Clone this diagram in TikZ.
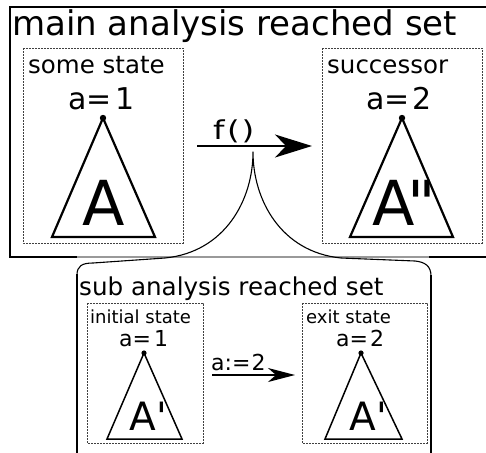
\documentclass[tikz,border=0pt]{standalone}
\usepackage{fontspec}
\usepackage{graphicx}
\newfontfamily\dv{DejaVu Sans}
\usetikzlibrary{arrows.meta}
\begin{document}
\begin{tikzpicture}[x=1pt,y=-1pt,
  lbl/.style={inner sep=0pt, anchor=base west, font=\dv},
  fs/.style={font={\dv\fontsize{#1}{#1}\selectfont}},
  dbox/.style={draw=black!75, dash pattern=on 2pt off 1pt, line width=0.7pt},
  bigtri/.style={draw, line width=2.2pt, line join=miter},
  smalltri/.style={draw, line width=1.5pt, line join=miter},
  bigarr/.style={line width=1.8pt, -{Stealth[length=37pt, width=23pt, inset=11pt]}},
  smallarr/.style={line width=1.4pt, -{Stealth[length=27pt, width=14pt, inset=8pt]}},
  frame/.style={line width=2pt},
  brace/.style={line width=1.1pt, line join=round}
]
\useasboundingbox (0,0) rectangle (486,452);
\clip (0,0) rectangle (486,452);
\fill[white] (0,0) rectangle (486,452);

% main frame
\draw[frame] (495,7) -- (10,7) -- (10,257) -- (77,257);
\draw[frame] (429,257) -- (495,257);
\draw[line width=1.6pt, black!40] (77,257) -- (429,257);

\node[lbl, fs=34] (maintitle) at (12,36) {main analysis reached set};

% dashed state boxes (main)
\draw[dbox] (23,48) rectangle (183,243);
\draw[dbox] (322,48) rectangle (482,243);

\node[lbl, fs=24.5] (somestate) at (28,73) {some state};
\node[lbl, fs=24.5] (succ) at (327,73) {successor};

\node[lbl, fs=30] (a1) at (68,109) {a=\kern4pt1};
\node[lbl, fs=30] (a2) at (366,109) {a=\kern3pt2};

% main triangles
\coordinate (tA) at (103,118);
\coordinate (tB) at (402,118);
\draw[bigtri] (tA) -- (155,237) -- (52,237) -- cycle;
\draw[bigtri] (tB) -- (453,237) -- (350,237) -- cycle;
\fill (tA) circle (3.2pt);
\fill (tB) circle (3.2pt);
\node[inner sep=0pt, anchor=base, fs=62] (A) at (104,225) {A};
\node[lbl, fs=62] (A2) at (372,225) {A\kern-7pt"};

% f() arrow
\coordinate (f0) at (197,146);
\coordinate (f1) at (312,146);
\draw[bigarr] (f0) -- (f1);
\node[lbl, fs=26] (f) at (213,139) {\scalebox{1.25}[1]{f\kern2pt(\kern1.5pt)}};

% sub frame with brace
\draw[brace] (77,275) .. controls (77,266) and (82,263) .. (93,263)
  -- (165,258) .. controls (225,252) and (253,200) .. (253,152)
  .. controls (253,200) and (281,252) .. (341,258)
  -- (415,261) .. controls (425,262) and (431,266) .. (431,276);
\draw[line width=1.8pt] (77,274) -- (77,460);
\draw[line width=1.8pt] (431,275) -- (431,460);

\node[lbl, fs=24.6] (subtitle) at (79,295) {sub analysis reached set};

\draw[dbox] (87,303) rectangle (203,443);
\draw[dbox] (302,303) rectangle (427,443);

\node[lbl, fs=18] (initstate) at (90,323) {initial state};
\node[lbl, fs=18] (exitstate) at (306,323) {exit state};

\node[lbl, fs=22] (sa1) at (119,346) {a=\kern3pt1};
\node[lbl, fs=22] (sa2) at (336,346) {a=\kern2pt2};

\coordinate (tC) at (144,353);
\coordinate (tD) at (361,353);
\draw[smalltri] (tC) -- (182,439) -- (107,439) -- cycle;
\draw[smalltri] (tD) -- (402,439) -- (325,439) -- cycle;
\fill (tC) circle (2.6pt);
\fill (tD) circle (2.6pt);
\node[lbl, fs=39] (Ap1) at (129.5,430) {A'};
\node[lbl, fs=39] (Ap2) at (349.5,430) {A'};

% a:=2 arrow
\coordinate (g0) at (212,375);
\coordinate (g1) at (295,375);
\draw[smallarr] (g0) -- (g1);
\node[lbl, fs=22] (assign) at (211,370) {a:=\kern1pt2};
\end{tikzpicture}
\end{document}
